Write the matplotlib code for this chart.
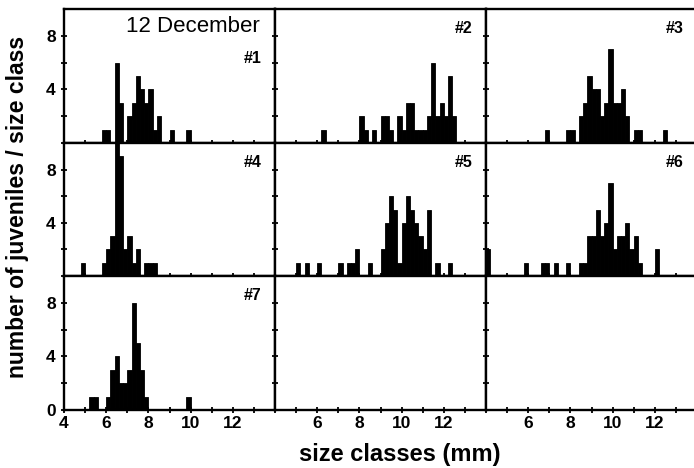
import matplotlib
matplotlib.use('Agg')
import matplotlib.pyplot as plt

plt.rcParams['font.family'] = ['Liberation Sans', 'DejaVu Sans']
plt.rcParams['font.weight'] = 'bold'

# ---------------- data (lower edge of 0.2 mm size class, count) ----------------
bin_width = 0.2

p1_sizes = [5.8, 6.0, 6.4, 6.6, 7.0, 7.2, 7.4, 7.6, 7.8, 8.0, 8.2, 8.4, 9.0, 9.8]
p1_counts = [1, 1, 6, 3, 2, 3, 5, 4, 3, 4, 1, 2, 1, 1]

p2_sizes = [6.2, 8.0, 8.2, 8.6, 9.0, 9.2, 9.4, 9.8, 10.0, 10.2, 10.4, 10.6, 10.8,
            11.0, 11.2, 11.4, 11.6, 11.8, 12.0, 12.2, 12.4]
p2_counts = [1, 2, 1, 1, 2, 2, 1, 2, 1, 3, 3, 1, 1, 1, 2, 6, 2, 3, 2, 5, 2]

p3_sizes = [6.8, 7.8, 8.0, 8.4, 8.6, 8.8, 9.0, 9.2, 9.4, 9.6, 9.8, 10.0, 10.2,
            10.4, 10.6, 11.0, 11.2, 12.4]
p3_counts = [1, 1, 1, 2, 3, 5, 4, 4, 2, 3, 7, 3, 3, 4, 2, 1, 1, 1]

p4_sizes = [4.8, 5.8, 6.0, 6.2, 6.4, 6.6, 6.8, 7.0, 7.2, 7.4, 7.8, 8.0, 8.2]
p4_counts = [1, 1, 2, 3, 10, 9, 2, 3, 1, 2, 1, 1, 1]

p5_sizes = [5.0, 5.4, 6.0, 7.0, 7.4, 7.6, 7.8, 8.4, 9.0, 9.2, 9.4, 9.6, 9.8,
            10.0, 10.2, 10.4, 10.6, 10.8, 11.0, 11.2, 11.6, 12.2]
p5_counts = [1, 1, 1, 1, 1, 1, 2, 1, 2, 4, 6, 5, 1, 4, 6, 5, 4, 3, 2, 5, 1, 1]

p6_sizes = [4.0, 5.8, 6.6, 6.8, 7.2, 7.8, 8.4, 8.6, 8.8, 9.0, 9.2, 9.4, 9.6,
            9.8, 10.0, 10.2, 10.4, 10.6, 10.8, 11.0, 11.2, 12.0]
p6_counts = [2, 1, 1, 1, 1, 1, 1, 1, 3, 3, 5, 3, 4, 7, 2, 3, 3, 4, 2, 3, 1, 2]

p7_sizes = [5.2, 5.4, 6.0, 6.2, 6.4, 6.6, 6.8, 7.0, 7.2, 7.4, 7.6, 7.8, 9.8]
p7_counts = [1, 1, 1, 3, 4, 2, 2, 3, 8, 5, 3, 1, 1]

panel_labels = ['#1', '#2', '#3', '#4', '#5', '#6', '#7']
date_label = '12 December'
x_label = 'size classes (mm)'
y_label = 'number of juveniles / size class'

x_ticks = [4, 5, 6, 7, 8, 9, 10, 11, 12, 13]
x_labels_first_col = [4, 6, 8, 10, 12]
x_labels_other_cols = [6, 8, 10, 12]
y_ticks = [0, 2, 4, 6, 8]
y_labels_bottom_row = [0, 4, 8]
y_labels_upper_rows = [4, 8]

panels = [(p1_sizes, p1_counts), (p2_sizes, p2_counts), (p3_sizes, p3_counts),
          (p4_sizes, p4_counts), (p5_sizes, p5_counts), (p6_sizes, p6_counts),
          (p7_sizes, p7_counts)]

# ---------------- layout ----------------
W, H = 694, 468
fig = plt.figure(figsize=(W / 100, H / 100), dpi=100)
col_left = [64, 275, 486]
col_w = 211
row_top = [9, 143, 276]
row_h = [134, 133, 134]

idx = 0
for r in range(3):
    for c in range(3):
        ax = fig.add_axes([col_left[c] / W, 1 - (row_top[r] + row_h[r]) / H,
                           col_w / W, row_h[r] / H])
        ax.set_xlim(4, 14)
        ax.set_ylim(0, 10)
        for s in ax.spines.values():
            s.set_linewidth(1.7)
            s.set_zorder(5)
        ax.set_xticks(x_ticks)
        ax.set_yticks(y_ticks)
        if r == 2:
            shown = x_labels_first_col if c == 0 else x_labels_other_cols
            ax.set_xticklabels([str(v) if v in shown else '' for v in x_ticks])
        else:
            ax.set_xticklabels([''] * len(x_ticks))
        if c == 0:
            shown = y_labels_bottom_row if r == 2 else y_labels_upper_rows
            ax.set_yticklabels([str(v) if v in shown else '' for v in y_ticks])
        else:
            ax.set_yticklabels([''] * len(y_ticks))
        ax.tick_params(axis='both', direction='inout', length=4, width=1.3,
                       labelsize=12.5, colors='black')
        ax.tick_params(axis='x', pad=2)
        ax.tick_params(axis='y', pad=4)
        for lab in ax.get_xticklabels() + ax.get_yticklabels():
            lab.set_fontweight('bold')

        if idx < len(panels):
            sizes, counts = panels[idx]
            ax.bar(sizes, counts, width=bin_width, align='edge',
                   color='black', edgecolor='black', linewidth=0.6, zorder=3)
            ypos = 0.627 if idx == 0 else 0.853
            ax.text(0.935, ypos, panel_labels[idx], transform=ax.transAxes,
                    ha='right', va='center', fontsize=11.5, fontweight='bold')
            if idx == 0:
                ax.text(0.93, 0.945, date_label, transform=ax.transAxes,
                        ha='right', va='top', fontsize=16, fontweight='normal')
        idx += 1

fig.text(400 / W, 1 - 455 / H, x_label, ha='center', va='center',
         fontsize=17, fontweight='bold')
fig.text(18 / W, 1 - 207 / H, y_label, ha='center', va='center',
         rotation=90, fontsize=16.5, fontweight='bold')

fig.savefig('out.png', dpi=100)
